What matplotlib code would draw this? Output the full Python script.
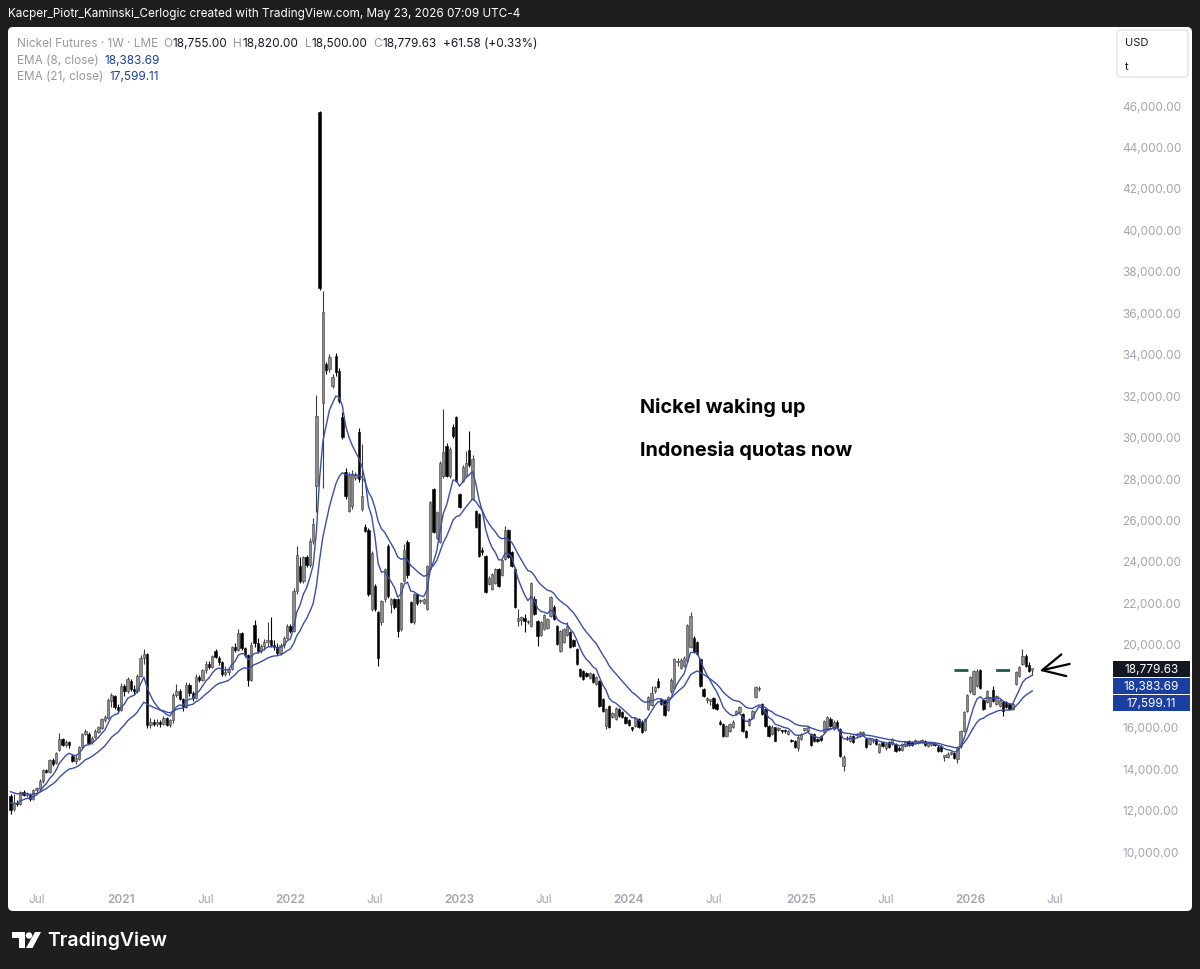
import numpy as np
import pandas as pd
import matplotlib
matplotlib.use("Agg")
import matplotlib.pyplot as plt
import matplotlib.transforms as mtransforms
from matplotlib.patches import FancyBboxPatch, Rectangle, Circle, Polygon

# LME nickel futures, weekly bars starting the week of 2020-05-11
START = "2020-05-11"

opens = [12650, 12050, 12300, 12250, 12850, 12700, 12700, 12500, 12950, 13000,
         13400, 13900, 13800, 14400, 14250, 14900, 15400, 15100, 15250, 14600,
         14350, 14450, 15000, 15650, 15650, 15250, 15500, 15750, 15950, 16300,
         16400, 17250, 17500, 16950, 16800, 17950, 17700, 18200, 17800, 17700,
         18450, 19300, 19500, 16100, 16250, 16150, 16250, 16150, 16400, 16100,
         16300, 17550, 17700, 17350, 16950, 18000, 17650, 17400, 18400, 18250,
         18750, 19050, 18900, 19650, 19300, 19100, 18550, 18650, 18800, 19850,
         19700, 20500, 19800, 19450, 18250, 20900, 20050, 19650, 19900, 20100,
         20200, 19950, 19850, 19550, 19950, 20300, 20850, 20600, 22550, 23750,
         23050, 24200, 23800, 24950, 27600, 45650, 31600, 33500, 33250, 32450,
         33900, 33150, 30950, 28300, 26400, 26650, 28000, 30200, 26500, 25650,
         25500, 21700, 22800, 21550, 21050, 22150, 24700, 21900, 22150, 22150,
         20700, 23050, 24900, 22000, 21050, 22400, 22050, 21950, 21700, 23600,
         27450, 25100, 24900, 28100, 29550, 28100, 30450, 30950, 27250, 27850,
         28100, 29350, 27000, 26400, 26250, 24500, 24250, 22900, 22650, 22950,
         23600, 23300, 24100, 25500, 24450, 23600, 21100, 21150, 21250, 21050,
         20850, 22150, 21100, 20450, 20700, 20750, 21350, 21800, 20850, 19650,
         20100, 20450, 20550, 20200, 19750, 18800, 18700, 18600, 18350, 18550,
         18050, 18200, 17350, 16050, 17000, 16450, 16350, 16850, 16700, 16450,
         16300, 15950, 16050, 16350, 16250, 15850, 16850, 17050, 17700, 18200,
         17350, 17300, 16800, 17700, 17850, 19100, 18850, 18950, 19150, 19850,
         20300, 20100, 19250, 17800, 17300, 17250, 17400, 17100, 16250, 16130,
         15550, 15800, 16000, 16600, 16700, 16600, 15800, 16100, 16400, 17450,
         17800, 17100, 16850, 16050, 15650, 15980, 15850, 15800, 15800, 15650,
         15350, 15300, 14950, 15400, 15850, 15800, 15650, 15650, 15400, 15550,
         15750, 15900, 16350, 15900, 16250, 15900, 14100, 15450, 15300, 15550,
         15600, 15550, 15600, 15400, 15150, 15300, 15400, 14780, 15250, 14950,
         15250, 15150, 15150, 14950, 14900, 15050, 15300, 15250, 15200, 15200,
         15250, 15300, 15050, 15100, 15150, 15000, 15050, 14550, 14550, 14700,
         14750, 14450, 15050, 15800, 16750, 17700, 17600, 17950, 18750, 17300,
         17200, 17000, 17750, 17100, 17000, 17200, 17200, 17100, 16850, 18050,
         18450, 19050, 19400, 19000, 18755]

highs = [12750, 12750, 12450, 12900, 12950, 12850, 12750, 13000, 13100, 13500,
         13950, 13950, 14450, 14500, 14800, 15700, 15450, 15350, 15300, 14700,
         14650, 15050, 15700, 15900, 15750, 15550, 15900, 16050, 16400, 16550,
         17400, 17650, 17550, 17100, 18100, 18050, 18400, 18300, 18000, 18550,
         19450, 19750, 19550, 16400, 16350, 16350, 16300, 16500, 16450, 16350,
         17650, 18050, 17800, 17400, 18150, 18100, 17700, 18550, 18500, 18800,
         19150, 19150, 19450, 19750, 19400, 19150, 18950, 18900, 19900, 20050,
         20700, 20550, 19850, 19500, 20100, 21150, 20300, 20000, 20250, 21050,
         21300, 20200, 20050, 20050, 20400, 20950, 20950, 22700, 24700, 24200,
         24250, 24300, 25100, 26050, 32000, 45700, 37050, 33600, 34000, 33000,
         34050, 33300, 31200, 28500, 28300, 28400, 28300, 30400, 29650, 25800,
         25600, 24500, 22900, 21600, 22100, 23650, 24800, 22200, 22200, 22200,
         23000, 24800, 25000, 22050, 22450, 22450, 22150, 22200, 23800, 26900,
         27500, 26400, 28800, 31350, 29700, 29500, 30600, 31000, 27300, 28650,
         29300, 30250, 29100, 26450, 26300, 24650, 24300, 23250, 23400, 23650,
         23650, 24100, 25700, 25550, 24500, 23700, 21700, 21350, 21450, 21150,
         23000, 22300, 21150, 21100, 21450, 21250, 22300, 21850, 20900, 20650,
         20750, 21050, 20600, 20250, 19800, 18850, 18750, 18650, 18650, 18600,
         18450, 18250, 17400, 16900, 17050, 16700, 16950, 16900, 16750, 16500,
         16350, 16000, 16450, 16400, 16300, 16400, 17500, 17950, 17950, 18350,
         17400, 17350, 17500, 18350, 19300, 19300, 19300, 19400, 20950, 21550,
         20400, 20150, 19300, 17850, 17450, 17350, 17450, 17150, 16300, 16200,
         16100, 16200, 16300, 16800, 17000, 16650, 15850, 16400, 16800, 17950,
         17950, 17150, 16900, 16100, 16100, 16000, 16000, 15850, 15900, 15850,
         15400, 15350, 15600, 15700, 15950, 16050, 15700, 15700, 15450, 15600,
         16300, 16500, 16450, 16300, 16300, 15950, 14650, 15550, 15600, 15600,
         15700, 15800, 15800, 15450, 15450, 15400, 15450, 15200, 15300, 15200,
         15300, 15450, 15200, 15050, 15200, 15300, 15350, 15300, 15400, 15350,
         15400, 15350, 15250, 15250, 15200, 15100, 15100, 14600, 14800, 14850,
         14800, 15000, 15850, 16750, 17600, 18450, 18750, 18800, 18800, 17350,
         17750, 17450, 17950, 17550, 17350, 17250, 17250, 17150, 17150, 18700,
         18950, 19750, 19500, 19100, 18820]

lows = [11800, 11950, 12150, 12200, 12650, 12600, 12400, 12450, 12850, 12950,
        13300, 13750, 13750, 14100, 14200, 14850, 15050, 15000, 14950, 14300,
        14200, 14400, 14950, 15600, 15150, 15150, 15450, 15700, 15900, 16250,
        16350, 16950, 16850, 16650, 16750, 17500, 17650, 17700, 17600, 17650,
        18400, 19050, 15950, 15950, 16050, 16050, 16000, 16100, 16050, 16000,
        16200, 17450, 17300, 16750, 16900, 17500, 17250, 17350, 18150, 18200,
        18600, 18800, 18850, 19300, 19000, 18450, 18450, 18500, 18750, 19600,
        19650, 19700, 19350, 17950, 18200, 19850, 19550, 19550, 19700, 19900,
        19850, 19700, 19450, 19450, 19800, 20250, 20500, 20550, 22400, 22950,
        22950, 23700, 23700, 24800, 26350, 37100, 27500, 33000, 33100, 32350,
        32950, 31600, 29900, 27000, 26350, 26500, 27900, 27800, 26400, 25400,
        22300, 21600, 21600, 18950, 20900, 22000, 22200, 21500, 21700, 20350,
        20600, 23000, 23200, 21000, 20950, 21850, 21950, 21900, 21650, 23550,
        25350, 25050, 24850, 28000, 28050, 28000, 29950, 27800, 26550, 27800,
        28050, 28550, 26950, 25600, 24200, 24300, 22450, 22850, 22600, 22900,
        22750, 23250, 24050, 24150, 23700, 21750, 20850, 20900, 20550, 20950,
        20800, 21400, 19900, 20400, 20650, 20700, 21300, 21150, 19950, 19600,
        20050, 20400, 19800, 19850, 19000, 18400, 18250, 18400, 18300, 18100,
        18000, 16950, 16700, 15900, 15950, 16400, 16300, 16450, 16400, 16150,
        16050, 15800, 16000, 15950, 15700, 15800, 16800, 17000, 17650, 17850,
        17050, 16500, 16750, 17650, 17800, 18950, 18800, 18900, 19100, 19800,
        19550, 19450, 17900, 17450, 17150, 17050, 16850, 16800, 16100, 15500,
        15500, 15750, 15950, 16550, 16650, 15750, 15450, 16050, 16350, 17400,
        17700, 16550, 16000, 15500, 15600, 15300, 15800, 15700, 15700, 15600,
        15250, 14950, 14850, 15350, 15800, 15750, 15050, 15250, 15250, 15300,
        15700, 15850, 16000, 15850, 15950, 14550, 13850, 15350, 15250, 15200,
        15500, 15500, 15550, 14950, 15100, 15200, 15100, 14750, 15000, 14900,
        14950, 15100, 14800, 14850, 14850, 15000, 15050, 15050, 15150, 15150,
        15200, 15050, 15000, 15050, 15050, 14800, 14800, 14350, 14500, 14650,
        14450, 14250, 14950, 15750, 16700, 17650, 17550, 17900, 17800, 16800,
        17150, 16950, 17200, 17050, 16950, 16500, 16900, 16800, 16800, 18000,
        18400, 19000, 18900, 18650, 18500]

closes = [12000, 12300, 12250, 12850, 12700, 12750, 12500, 12950, 13000, 13400,
          13900, 13800, 14400, 14200, 14750, 15400, 15100, 15250, 15100, 14350,
          14500, 15000, 15650, 15800, 15200, 15450, 15800, 16000, 16350, 16450,
          17300, 17550, 16950, 16800, 17950, 17700, 18300, 17800, 17700, 18450,
          19300, 19500, 16100, 16250, 16150, 16250, 16150, 16400, 16100, 16300,
          17550, 17700, 17350, 16950, 18000, 17650, 17400, 18400, 18250, 18750,
          19050, 18900, 19400, 19350, 19100, 18550, 18650, 18800, 19850, 19700,
          20500, 19800, 19450, 18250, 19950, 20050, 19650, 19900, 20100, 20200,
          19950, 19850, 19550, 19950, 20300, 20850, 20600, 22550, 24300, 23050,
          24200, 23800, 24950, 25800, 31000, 37150, 36000, 33200, 33850, 32900,
          33100, 31700, 30000, 27150, 28100, 28200, 28150, 27950, 27150, 25450,
          22400, 24400, 21700, 19300, 22050, 23600, 22300, 22150, 21800, 20600,
          22950, 24550, 23300, 21050, 22400, 21950, 22100, 22150, 23750, 26850,
          25400, 26350, 28750, 29250, 28100, 29400, 30050, 27850, 26600, 28550,
          28750, 28650, 28900, 25650, 24250, 24450, 22500, 23200, 23350, 23600,
          22800, 24050, 25500, 24200, 23750, 21800, 21250, 21300, 21100, 21100,
          22950, 21450, 20400, 21050, 21400, 21200, 22250, 21200, 20000, 20600,
          20700, 20850, 19850, 19900, 19050, 18450, 18300, 18450, 18600, 18150,
          18400, 17000, 16750, 16850, 16000, 16650, 16900, 16500, 16450, 16200,
          16100, 15900, 16400, 16000, 15750, 16350, 17450, 17650, 17900, 17900,
          17100, 16550, 17450, 18250, 19250, 19150, 19200, 19300, 20900, 21350,
          19600, 19500, 17950, 17500, 17350, 17300, 16900, 16850, 16150, 15550,
          16030, 16130, 16230, 16750, 16950, 15800, 15500, 16350, 16750, 17900,
          17850, 16600, 16050, 15550, 16000, 15310, 15900, 15780, 15790, 15790,
          15300, 15000, 15500, 15650, 15900, 16000, 15100, 15300, 15300, 15350,
          16270, 16470, 16050, 16250, 16000, 14600, 14550, 15400, 15550, 15250,
          15620, 15750, 15750, 15000, 15400, 15310, 15150, 15160, 15050, 15150,
          15000, 15400, 14850, 14900, 15150, 15250, 15100, 15100, 15350, 15300,
          15350, 15100, 15200, 15200, 15100, 14850, 14850, 14560, 14700, 14750,
          14500, 14950, 15800, 16700, 17550, 18400, 18700, 18700, 17850, 16850,
          17700, 17400, 17250, 17500, 17300, 16750, 16950, 16850, 17100, 18650,
          18900, 19400, 18950, 18700, 18779.63]

EMA8_SEED = 12400
EMA21_SEED = 12950

# legend / label values shown by TradingView
LAST_O, LAST_H, LAST_L, LAST_C = 18755.00, 18820.00, 18500.00, 18779.63
CHANGE, CHANGE_PCT = 61.58, 0.33
EMA8_LAST, EMA21_LAST = 18383.69, 17599.11

# drawn resistance level (dashed) between these bar dates
LEVEL_PRICE = 18720
LEVEL_FROM, LEVEL_TO = "2025-12-01", "2026-05-04"

NOTE_1 = "Nickel waking up"
NOTE_2 = "Indonesia quotas now"
HEADER = "Kacper_Piotr_Kaminski_Cerlogic created with TradingView.com, May 23, 2026 07:09 UTC-4"

plt.rcParams['font.family'] = ['Inter', 'DejaVu Sans']

W, H = 1200, 970
BLUE_LINE = "#3a4ea8"
BLUE_BOX = "#1a3fa0"
GRAY_TXT = "#9598a1"
AXIS_TXT = "#a3a6af"
INK = "#131722"


def ema(vals, span, seed):
    alpha = 2.0 / (span + 1)
    out = []
    e = seed
    for v in vals:
        e = alpha * v + (1 - alpha) * e
        out.append(e)
    return np.array(out)


o = np.array(opens, dtype=float)
h = np.array(highs, dtype=float)
l = np.array(lows, dtype=float)
c = np.array(closes, dtype=float)
n = len(c)
x = np.arange(n)
dates = pd.date_range(START, periods=n + 40, freq="W-MON")

ema8 = ema(c, 8, EMA8_SEED)
ema21 = ema(c, 21, EMA21_SEED)

fig = plt.figure(figsize=(W / 100, H / 100), dpi=100)
fig.patch.set_facecolor("#1e1e1e")
renderer = fig.canvas.get_renderer()

# background layer in pixel coordinates (y down)
bg = fig.add_axes([0, 0, 1, 1], zorder=-1)
bg.set_xlim(0, W)
bg.set_ylim(H, 0)
bg.axis("off")
bg.add_patch(FancyBboxPatch((8, 28), 1184, 884, boxstyle="round,pad=0,rounding_size=5",
                            fc="white", ec="none"))

# price chart
YLO, YHI = 8650, 49770
ax = fig.add_axes([8 / W, (H - 880) / H, (1110 - 8) / W, (880 - 28) / H])
ax.set_facecolor("none")
ax.set_xlim(-0.77, 337.9)
ax.set_ylim(YLO, YHI)
for s in ax.spines.values():
    s.set_visible(False)
usd_per_px = (YHI - YLO) / 852

up = c >= o
wick_col = np.where(up, "#3c3c3c", "#000000")
ax.vlines(x, l, h, colors=wick_col, lw=0.8, zorder=2)
body_h = np.maximum(np.abs(c - o), 70)
ax.bar(x, body_h, bottom=np.minimum(o, c), width=0.72,
       color=np.where(up, "#8c8c8c", "#000000"),
       edgecolor=np.where(up, "#3c3c3c", "#000000"), linewidth=0.4, zorder=3)

ax.plot(x, ema8, color=BLUE_LINE, lw=1.0, zorder=4)
ax.plot(x, ema21, color=BLUE_LINE, lw=1.0, zorder=4)

# dashed level
i0 = dates.get_loc(pd.Timestamp(LEVEL_FROM))
i1 = dates.get_loc(pd.Timestamp(LEVEL_TO))
ax.plot([i0, i1 + 0.5], [LEVEL_PRICE, LEVEL_PRICE], color="#1d5c52", lw=2.0,
        dashes=(5, 10), zorder=5)

# arrow pointing back at the last bar
ax.annotate("", xy=(n + 1.3, LAST_C - 80), xytext=(n + 10.5, LAST_C + 250),
            arrowprops=dict(arrowstyle="->", color="black", lw=1.6, mutation_scale=40,
                            shrinkA=0, shrinkB=0),
            zorder=6)

# y axis on the right
ax.yaxis.tick_right()
ax.set_yticks(np.arange(10000, 46001, 2000))
ax.yaxis.set_major_formatter(plt.FuncFormatter(lambda v, p: f"{v:,.2f}"))
ax.tick_params(axis="y", length=0, pad=9, labelsize=8.5, labelcolor=AXIS_TXT)

# x axis: first weekly bar of each January and July
tick_pos, tick_lab, is_year = [], [], []
for yr in range(2020, 2027):
    for mo in (1, 7):
        hit = np.where((dates.year == yr) & (dates.month == mo))[0]
        if len(hit) == 0 or hit[0] > 337:
            continue
        tick_pos.append(hit[0])
        tick_lab.append(str(yr) if mo == 1 else "Jul")
        is_year.append(mo == 1)
ax.set_xticks(tick_pos)
ax.set_xticklabels(tick_lab)
ax.tick_params(axis="x", length=0, pad=10, labelsize=8.5, labelcolor=AXIS_TXT)
for t, yy in zip(ax.get_xticklabels(), is_year):
    if yy:
        t.set_fontweight("semibold")

# price labels on the axis, stacked so they do not overlap
blend = mtransforms.blended_transform_factory(ax.transAxes, ax.transData)
box_h = 16 * usd_per_px
step = 17 * usd_per_px
centers = []
for val, col in [(LAST_C, INK), (EMA8_LAST, BLUE_BOX), (EMA21_LAST, BLUE_BOX)]:
    cy = val
    if centers and centers[-1] - cy < step:
        cy = centers[-1] - step
    centers.append(cy)
    ax.add_patch(Rectangle((1.0027, cy - box_h / 2), 77 / 1102, box_h, transform=blend,
                           fc=col, ec="none", clip_on=False, zorder=7))
    ax.text(1.0027 + 38.5 / 1102, cy, f"{val:,.2f}", transform=blend, color="white",
            fontsize=8.5, ha="center", va="center", clip_on=False, zorder=8)

# header and footer
bg.text(8, 14, HEADER, color="white", fontsize=8.45, va="center", ha="left")
bg.add_patch(Polygon([(12, 933), (25, 933), (25, 949), (19, 949), (19, 939), (12, 939)],
                     closed=True, fc="white", ec="none"))
bg.add_patch(Circle((29, 936.5), 3.2, fc="white", ec="none"))
bg.add_patch(Polygon([(26, 949), (32.5, 949), (41, 933), (35, 933)], closed=True,
                     fc="white", ec="none"))
bg.text(47, 941, "TradingView", color="white", fontsize=14, fontweight="semibold",
        va="center", ha="left")


def text_run(x0, y, pieces, fs):
    # lay out pieces of text one after another, gap given in pixels
    xx = x0
    for s, col, gap in pieces:
        t = bg.text(xx, y, s, color=col, fontsize=fs, va="center", ha="left")
        xx += t.get_window_extent(renderer).width + gap


fs = 8.5
text_run(17, 44, [("Nickel Futures · 1W · LME", GRAY_TXT, 5),
                  ("O", GRAY_TXT, 0.5), (f"{LAST_O:,.2f}", INK, 6),
                  ("H", GRAY_TXT, 0.5), (f"{LAST_H:,.2f}", INK, 6),
                  ("L", GRAY_TXT, 0.5), (f"{LAST_L:,.2f}", INK, 6),
                  ("C", GRAY_TXT, 0.5), (f"{LAST_C:,.2f}", INK, 6),
                  (f"+{CHANGE:.2f} (+{CHANGE_PCT:.2f}%)", INK, 0)], fs)
text_run(17, 61, [("EMA (8, close)", GRAY_TXT, 6), (f"{EMA8_LAST:,.2f}", BLUE_BOX, 0)], fs)
text_run(17, 77, [("EMA (21, close)", GRAY_TXT, 6), (f"{EMA21_LAST:,.2f}", BLUE_BOX, 0)], fs)

# currency / unit box
bg.add_patch(FancyBboxPatch((1117, 31), 71, 47, boxstyle="round,pad=0,rounding_size=4",
                            fc="white", ec="#e0e3eb", lw=1))
bg.text(1125, 43, "USD", color=INK, fontsize=8, va="center")
bg.text(1125, 67, "t", color=INK, fontsize=8, va="center")

# notes
bg.text(640, 408, NOTE_1, color="black", fontsize=14.3, fontweight="bold", va="center")
bg.text(640, 451, NOTE_2, color="black", fontsize=14.3, fontweight="bold", va="center")

fig.savefig("out.png", dpi=100, facecolor=fig.get_facecolor())
